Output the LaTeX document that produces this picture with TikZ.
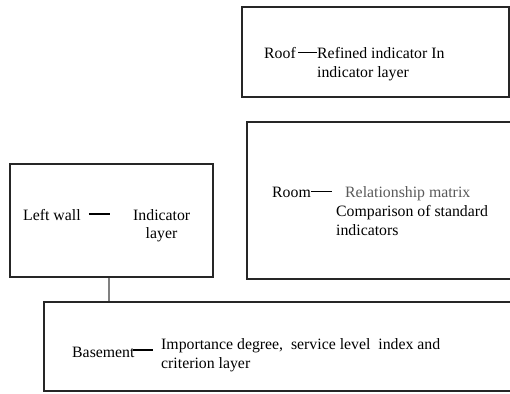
\documentclass[tikz,border=0pt]{standalone}
\usepackage{fontspec}
\setmainfont{Liberation Serif}
\begin{document}
\begin{tikzpicture}[x=1pt,y=-1pt,
  box/.style={draw=black!85,line width=1.2pt,inner sep=0pt},
  lbl/.style={anchor=base west,inner sep=0pt,font=\fontsize{15.8}{18}\selectfont},
  dashline/.style={line width=1.1pt}]
  \clip (0,0) rectangle (510,393);
  % boxes
  \node[box,minimum width=267pt,minimum height=90pt] (roofbox) at (375.5,52) {};
  \node[box,minimum width=270pt,minimum height=157pt] (roombox) at (382,200.5) {};
  \node[box,minimum width=203pt,minimum height=113pt] (wallbox) at (111.5,220.5) {};
  \node[box,minimum width=480pt,minimum height=89pt] (basebox) at (284,346.5) {};
  \draw[line width=1.6pt,black!50] ([xshift=-2.5pt]wallbox.south) -- ([xshift=-2.5pt]wallbox.south |- basebox.north);
  % roof
  \node[lbl] (roof) at (264,58.5) {Roof};
  \node[lbl] (roofa) at (317,58.5) {Refined indicator In};
  \node[lbl] (roofb) at (317,77.5) {indicator layer};
  \draw[dashline] ([shift={(2pt,6pt)}]roof.base east) -- ([yshift=6pt]roof.base east -| roofa.west);
  % room
  \node[lbl] (room) at (272,197.5) {Room};
  \node[lbl,black!65] (rooma) at (345,197.5) {Relationship matrix};
  \node[lbl] (roomb) at (336,216) {Comparison of standard};
  \node[lbl] (roomc) at (336,235) {indicators};
  \draw[dashline] ([yshift=6pt]room.base east) -- ++(21,0);
  % left wall
  \node[lbl] (wall) at (23,220) {Left wall};
  \node[lbl] (walla) at (133,220) {Indicator};
  \node[lbl,anchor=base] (wallb) at (161.5,238.5) {layer};
  \draw[dashline] ([shift={(8pt,6pt)}]wall.base east) -- ++(21,0);
  % basement
  \node[lbl] (base) at (72,357) {Basement};
  \node[lbl] (basea) at (161,349.5) {Importance degree,\ \ service level\ \ index and};
  \node[lbl] (baseb) at (161,368.5) {criterion layer};
  \draw[dashline] ([shift={(-2pt,7pt)}]base.base east) -- ++(20,0);
\end{tikzpicture}
\end{document}
